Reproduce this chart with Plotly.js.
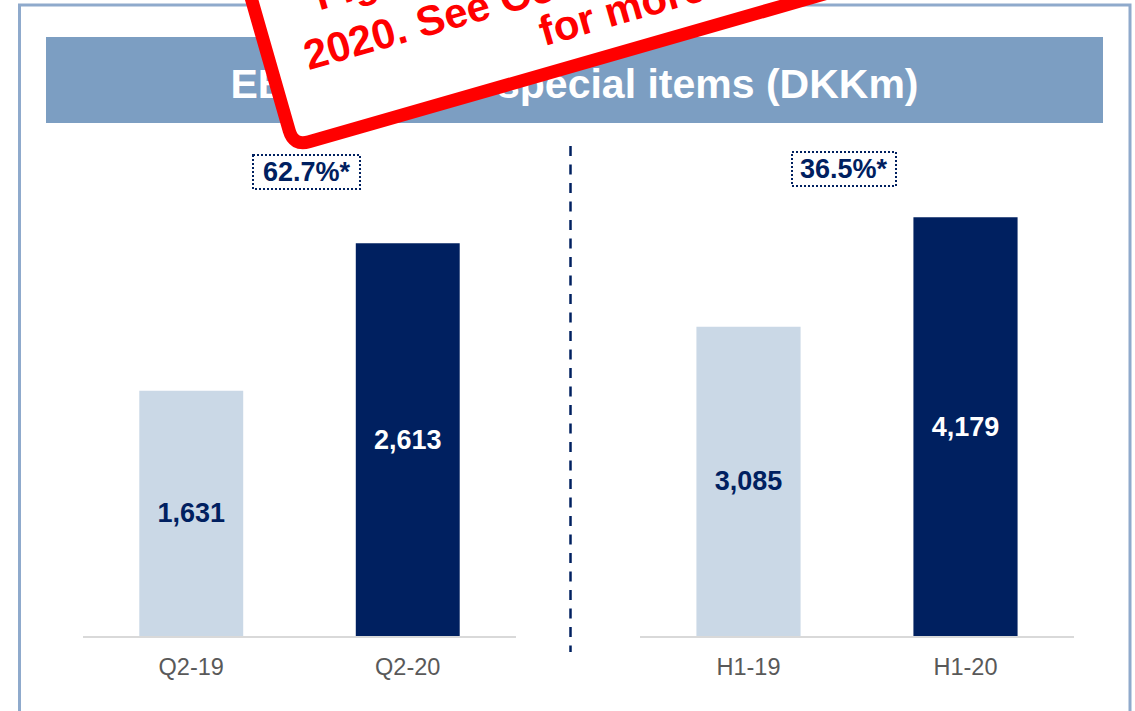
<!DOCTYPE html>
<html>
<head>
<meta charset="utf-8">
<script src="https://cdn.plot.ly/plotly-3.0.1.min.js"></script>
<style>
  html, body { margin: 0; padding: 0; background: #ffffff; }
  #chart { width: 1135px; height: 711px; }
</style>
</head>
<body>
<div id="chart"></div>
<script>
// ---- data ----
const quarterCats = ['Q2-19', 'Q2-20'];
const quarterValues = [1631, 2613];
const halfCats = ['H1-19', 'H1-20'];
const halfValues = [3085, 4179];
const growthLabels = ['62.7%*', '36.5%*'];
const chartTitle = 'EBITA before special items (DKKm)';
const stampLines = ['Figures restated', '2020. See Company Announcement', 'for more information'];

// ---- styling ----
const W = 1135, H = 711;
const LIGHT = '#cad8e6', DARK = '#002060', NAVY = '#002060';
const px = x => x / W;
const py = y => 1 - y / H;
const FONT = 'Liberation Sans, Arial, sans-serif';

const traces = [
  {
    type: 'bar', x: quarterCats, y: quarterValues, xaxis: 'x', yaxis: 'y',
    marker: { color: [LIGHT, DARK] },
    texttemplate: '%{y:,}', textposition: 'inside', insidetextanchor: 'middle',
    textangle: 0, constraintext: 'none',
    textfont: { family: FONT, size: 27, weight: 'bold', color: [NAVY, '#ffffff'] },
    hoverinfo: 'skip'
  },
  {
    type: 'bar', x: halfCats, y: halfValues, xaxis: 'x2', yaxis: 'y2',
    marker: { color: [LIGHT, DARK] },
    texttemplate: '%{y:,}', textposition: 'inside', insidetextanchor: 'middle',
    textangle: 0, constraintext: 'none',
    textfont: { family: FONT, size: 27, weight: 'bold', color: [NAVY, '#ffffff'] },
    hoverinfo: 'skip'
  }
];

const xCommon = {
  showline: true, linecolor: '#d9d9d9', linewidth: 2,
  showgrid: false, zeroline: false, ticks: '',
  tickfont: { family: FONT, size: 23.5, color: '#595959' },
  ticklabelstandoff: 9, fixedrange: true
};
const yCommon = {
  visible: false, showgrid: false, zeroline: false, fixedrange: true,
  domain: [75 / H, 541 / H]
};

// ---- stamp geometry (rotated rounded rectangle) ----
const ang = 16 * Math.PI / 180;
const u = [Math.cos(ang), -Math.sin(ang)];
const up = [-Math.sin(ang), -Math.cos(ang)];
const P0 = [289.2, 154.2];
const half = 6.5;
const C0 = [P0[0] + half * u[0] + half * up[0], P0[1] + half * u[1] + half * up[1]];
const SW = 680, SH = 260, R = 16;
function pt(a, b) {
  const X = C0[0] + a * u[0] + b * up[0];
  const Y = C0[1] + a * u[1] + b * up[1];
  return px(X).toFixed(5) + ',' + py(Y).toFixed(5);
}
const stampPath =
  'M' + pt(R, 0) + ' L' + pt(SW - R, 0) + ' Q' + pt(SW, 0) + ' ' + pt(SW, R) +
  ' L' + pt(SW, SH - R) + ' Q' + pt(SW, SH) + ' ' + pt(SW - R, SH) +
  ' L' + pt(R, SH) + ' Q' + pt(0, SH) + ' ' + pt(0, SH - R) +
  ' L' + pt(0, R) + ' Q' + pt(0, 0) + ' ' + pt(R, 0) + ' Z';

const shapes = [
  // outer frame
  { type: 'rect', xref: 'paper', yref: 'paper', x0: px(19.5), x1: px(1130), y0: py(5), y1: py(800),
    line: { color: '#8faacc', width: 3 }, fillcolor: 'rgba(0,0,0,0)', layer: 'below' },
  // title band with title text
  { type: 'rect', xref: 'paper', yref: 'paper', x0: px(46), x1: px(1103), y0: py(37), y1: py(123),
    line: { width: 0 }, fillcolor: '#7c9ec2', layer: 'below',
    label: { text: '<b>' + chartTitle + '</b>', textposition: 'middle center',
      font: { family: FONT, size: 41, color: '#ffffff' } } },
  // separator
  { type: 'line', xref: 'paper', yref: 'paper', x0: px(570.5), x1: px(570.5), y0: py(146), y1: py(652),
    line: { color: NAVY, width: 2.5, dash: '10px,8.5px' } },
  // growth boxes
  { type: 'rect', xref: 'paper', yref: 'paper', x0: px(253), x1: px(360), y0: py(155), y1: py(189),
    line: { color: NAVY, width: 2, dash: '2px,2px' }, fillcolor: 'rgba(0,0,0,0)' },
  { type: 'rect', xref: 'paper', yref: 'paper', x0: px(792), x1: px(896), y0: py(152), y1: py(186),
    line: { color: NAVY, width: 2, dash: '2px,2px' }, fillcolor: 'rgba(0,0,0,0)' },
  // stamp
  { type: 'path', xref: 'paper', yref: 'paper', path: stampPath,
    fillcolor: '#ffffff', line: { color: '#ff0000', width: 13 }, layer: 'above' }
];

// stamp text: baseline-left targets (pixels)
const stampStarts = [[318, 11], [307, 71], [542, 47]];
const stampAnns = stampLines.map((t, i) => ({
  xref: 'paper', yref: 'paper',
  x: px(stampStarts[i][0] - 11.4), y: py(stampStarts[i][1] + 10.5),
  xanchor: 'left', yanchor: 'bottom', showarrow: false,
  textangle: -16,
  text: '<b>' + t + '</b>',
  font: { family: FONT, size: 42, color: '#ff0000' }
}));

const growthAnns = [
  { x: px(306.5), y: py(172) },
  { x: px(844), y: py(169) }
].map((p, i) => ({
  xref: 'paper', yref: 'paper', x: p.x, y: p.y, xanchor: 'center', yanchor: 'middle',
  showarrow: false, text: '<b>' + growthLabels[i] + '</b>',
  font: { family: FONT, size: 27, color: NAVY }
}));

const layout = {
  width: W, height: H,
  margin: { l: 0, r: 0, t: 0, b: 0 },
  paper_bgcolor: '#ffffff', plot_bgcolor: 'rgba(0,0,0,0)',
  showlegend: false,
  bargap: 0.52,
  xaxis: Object.assign({}, xCommon, { domain: [83 / W, 516 / W], anchor: 'y' }),
  xaxis2: Object.assign({}, xCommon, { domain: [640 / W, 1074 / W], anchor: 'y2' }),
  yaxis: Object.assign({}, yCommon, { range: [0, 3100], anchor: 'x' }),
  yaxis2: Object.assign({}, yCommon, { range: [0, 4650], anchor: 'x2' }),
  shapes: shapes,
  annotations: growthAnns.concat(stampAnns)
};

Plotly.newPlot('chart', traces, layout, { staticPlot: true, displayModeBar: false });
</script>
</body>
</html>
